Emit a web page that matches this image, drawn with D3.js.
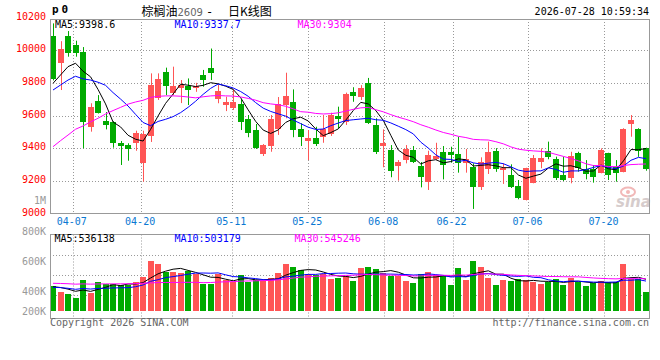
<!DOCTYPE html>
<html><head><meta charset="utf-8">
<script src="https://cdn.jsdelivr.net/npm/d3@7"></script>
<style>
body{margin:0;background:#fff}
svg{display:block}
text{font-family:"DejaVu Sans Mono",monospace;font-size:10px}
</style>
</head><body>
<svg id="c" width="660" height="360"></svg>
<script>
// ---------- data ----------
const dates = ["04-01","04-02","04-03","04-07","04-08","04-09","04-10","04-13","04-14","04-15","04-16","04-17","04-20","04-21","04-22","04-23","04-24","04-27","04-28","04-29","04-30",
"05-06","05-07","05-08","05-11","05-12","05-13","05-14","05-15","05-18","05-19","05-20","05-21","05-22","05-25","05-26","05-27","05-28","05-29",
"06-01","06-02","06-03","06-04","06-05","06-08","06-09","06-10","06-11","06-12","06-15","06-16","06-17","06-18","06-22","06-23","06-24","06-25","06-26","06-29","06-30",
"07-01","07-02","07-03","07-06","07-07","07-08","07-09","07-10","07-13","07-14","07-15","07-16","07-17","07-20","07-21","07-22","07-23","07-24","07-27","07-28"];

const open = [10087,9920,10087,10031,9991,9531,9691,9566,9558,9430,9419,9430,9307,9476,9705,9868,9740,9766,9781,9766,
9848,9893,9699,9664,9648,9670,9579,9511,9364,9413,9517,9664,9684,9517,9446,9464,9467,9485,9597,9562,
9746,9713,9797,9542,9415,9389,9293,9327,9389,9291,9195,9334,9378,9378,9364,9311,9283,9160,9271,9384,
9266,9236,9168,9083,9189,9317,9384,9332,9236,9219,9369,9271,9272,9250,9372,9283,9256,9548,9515,9399];
const high = [10164,10055,10117,10058,10019,9675,9725,9621,9565,9444,9430,9507,9507,9858,9858,9893,9899,9817,9827,9800,
9879,10010,9787,9715,9760,9699,9603,9548,9425,9603,9713,9862,9760,9552,9511,9531,9603,9617,9654,9740,
9773,9786,9830,9583,9515,9419,9327,9419,9413,9315,9384,9433,9413,9409,9470,9395,9307,9344,9440,9400,
9307,9301,9205,9280,9358,9399,9440,9348,9348,9378,9378,9327,9297,9399,9372,9327,9522,9603,9522,9403];
const low = [9815,9756,9960,9960,9399,9501,9612,9515,9403,9297,9323,9384,9195,9438,9695,9725,9725,9676,9664,9745,
9776,9817,9675,9627,9634,9511,9467,9395,9352,9378,9481,9583,9467,9413,9327,9413,9433,9475,9522,9542,
9684,9695,9548,9364,9283,9222,9201,9307,9309,9160,9144,9327,9209,9311,9250,9250,9028,9144,9242,9255,
9181,9156,9087,9080,9185,9277,9332,9205,9199,9185,9256,9209,9189,9246,9205,9195,9252,9470,9347,9262];
const close = [9822,10005,9984,9984,9562,9650,9617,9542,9430,9411,9395,9495,9487,9787,9822,9781,9781,9787,9756,9782,
9817,9862,9752,9684,9684,9562,9491,9399,9419,9579,9670,9721,9511,9467,9464,9425,9517,9603,9580,9732,
9719,9768,9556,9378,9430,9262,9317,9395,9317,9225,9358,9352,9297,9358,9307,9332,9160,9317,9378,9271,
9277,9160,9093,9277,9338,9338,9348,9219,9205,9352,9277,9242,9225,9389,9236,9246,9515,9572,9383,9272];
const volume = [470000,410000,390000,350000,530000,400000,510000,490000,490000,480000,480000,510000,560000,720000,690000,610000,610000,600000,620000,590000,
490000,490000,590000,530000,510000,580000,510000,530000,520000,550000,600000,690000,660000,630000,590000,580000,590000,540000,550000,570000,
520000,650000,660000,640000,600000,570000,570000,520000,500000,590000,610000,580000,580000,480000,650000,530000,720000,660000,550000,480000,
530000,520000,540000,530000,510000,490000,510000,540000,480000,550000,510000,470000,500000,520000,510000,510000,690000,537000,537000,410000];

// sessions before the visible window (estimated from where the MA lines start)
const priorCloses = [8900,8950,8920,8960,8910,8940,8760,8800,8820,8800,9100,9180,9260,9620,9700,9780,9850,9900,9935,9625,9700,9680,9750,9720,9725,9750,9729,9879,9805];
const priorVolumes = [460000,470000,480000,450000,470000,460000,470000,480000,460000,470000,460000,474000,590000,600000,580000,600000,590000,590000,600000,586000,440000,460000,450000,450000,455000,450000,470000,460000,465000];

const priceTicks = [10200,10000,9800,9600,9400,9200,9000];
const volumeTickLabels = ["800K","600K","400K","200K"];
const dateTicks = ["04-07","04-20","05-11","05-25","06-08","06-22","07-06","07-20"];
const maPeriods = [5,10,30];
const priceMaLabels = ["MA5:9398.6","MA10:9337.7","MA30:9304"];
const volumeMaLabels = ["MA5:536138","MA10:503179","MA30:545246"];

// ---------- layout ----------
const svg = d3.select("#c");
const L = 50, R = 650, PT = 19, PB = 213.5, VT = 234.5, VB = 318.5;
const UP = "#ff5555", DN = "#00aa00";
const maColors = ["#000000","#0000ff","#ff00ff"];
const crisp = v => Math.round(v) + 0.5;

const xC = d3.scaleLinear().domain([0, dates.length - 1]).range([53, 646]);
const xG = d3.scaleLinear().domain([0, dates.length - 1]).range([50, 650]);
const yP = d3.scaleLinear().domain([9000, 10200]).range([213.5, 17.5]);
const yV = d3.scaleLinear().domain([220000, 980000]).range([311, 235]);

function movingAvg(prior, vals, n) {
  const all = prior.concat(vals), off = prior.length;
  return vals.map((v, i) => d3.mean(all.slice(off + i - n + 1, off + i + 1)));
}

// watermark
const wm = svg.append("g");
wm.append("ellipse").attr("cx", 628).attr("cy", 192).attr("rx", 7).attr("ry", 4.5)
  .attr("fill", "none").attr("stroke", "#f2b8b8").attr("stroke-width", 2);
wm.append("circle").attr("cx", 628).attr("cy", 192).attr("r", 2).attr("fill", "#f2b8b8");
wm.append("text").attr("x", 616).attr("y", 207).text("sina")
  .style("font-family", "DejaVu Sans").style("font-size", "15px").style("font-style", "italic")
  .style("font-weight", "bold").attr("fill", "#d6cccc");

// grids
const grid = svg.append("g").attr("stroke", "#999").attr("stroke-dasharray", "1,2").attr("stroke-width", 1);
priceTicks.filter(v => v > 9000 && v < 10200).forEach(v => {
  grid.append("line").attr("x1", L).attr("x2", R).attr("y1", crisp(yP(v))).attr("y2", crisp(yP(v)));
});
dateTicks.forEach(d => {
  const x = crisp(xG(dates.indexOf(d)));
  grid.append("line").attr("x1", x).attr("x2", x).attr("y1", PT).attr("y2", PB);
  grid.append("line").attr("x1", x).attr("x2", x).attr("y1", VT).attr("y2", VB);
});
[1, 2, 3].forEach(k => {
  const y = crisp(VT + k * 20.2);
  grid.append("line").attr("x1", L).attr("x2", R).attr("y1", y).attr("y2", y);
});

// candles
const cg = svg.append("g");
dates.forEach((d, i) => {
  const col = close[i] >= open[i] ? UP : DN;
  const cx = Math.round(xC(i));
  cg.append("line").attr("x1", cx + 0.5).attr("x2", cx + 0.5)
    .attr("y1", yP(high[i])).attr("y2", yP(low[i])).attr("stroke", col).attr("stroke-width", 1);
  const top = yP(Math.max(open[i], close[i])), bot = yP(Math.min(open[i], close[i]));
  cg.append("rect").attr("x", cx - 3).attr("width", 6).attr("y", top)
    .attr("height", Math.max(1, bot - top)).attr("fill", col).attr("shape-rendering", "crispEdges");
});

// price MAs
maPeriods.forEach((n, k) => {
  const m = movingAvg(priorCloses, close, n);
  svg.append("path").datum(m).attr("fill", "none").attr("stroke", maColors[k]).attr("stroke-width", 1)
    .attr("d", d3.line().x((d, i) => xC(i)).y(d => yP(d)));
});

// volume bars
const vg = svg.append("g");
dates.forEach((d, i) => {
  const col = close[i] >= open[i] ? UP : DN;
  const cx = Math.round(xC(i));
  vg.append("rect").attr("x", cx - 3).attr("width", 6).attr("y", yV(volume[i]))
    .attr("height", yV.range()[0] - yV(volume[i])).attr("fill", col).attr("shape-rendering", "crispEdges");
});
maPeriods.forEach((n, k) => {
  const m = movingAvg(priorVolumes, volume, n);
  svg.append("path").datum(m).attr("fill", "none").attr("stroke", maColors[k]).attr("stroke-width", 1)
    .attr("d", d3.line().x((d, i) => xC(i)).y(d => yV(d)));
});

// borders
svg.append("rect").attr("x", L + 0.5).attr("y", PT + 0.5).attr("width", R - L - 1).attr("height", PB - PT - 0.5)
  .attr("fill", "none").attr("stroke", "#999");
svg.append("rect").attr("x", L + 0.5).attr("y", VT).attr("width", R - L - 1).attr("height", VB - VT)
  .attr("fill", "none").attr("stroke", "#999");

// y labels
priceTicks.forEach(v => {
  svg.append("text").attr("x", 46).attr("y", yP(v) + 2).attr("text-anchor", "end").attr("fill", "#ff0000").text(v);
});
svg.append("text").attr("x", 46).attr("y", 204).attr("text-anchor", "end").attr("fill", "#999").text("1M");
const volLabelOffsets = [0, 30, 60, 80];
volumeTickLabels.forEach((t, k) => {
  svg.append("text").attr("x", 46).attr("y", VT + volLabelOffsets[k]).attr("text-anchor", "end").attr("fill", "#999").text(t);
});

// x labels
dateTicks.forEach(d => {
  svg.append("text").attr("x", xG(dates.indexOf(d)) - 1).attr("y", 225).attr("text-anchor", "middle")
    .attr("fill", "#0a78d2").text(d);
});

// MA legends
const pmx = [55, 174.5, 297.5], vmx = [54.5, 174.5, 294.5];
priceMaLabels.forEach((t, k) => svg.append("text").attr("x", pmx[k]).attr("y", 27.5).attr("fill", maColors[k]).text(t));
volumeMaLabels.forEach((t, k) => svg.append("text").attr("x", vmx[k]).attr("y", 241.5).attr("fill", maColors[k]).text(t));

// header
svg.append("text").attr("x", 52).attr("y", 13).style("font-weight", "bold").style("font-size", "11px").text("p");
svg.append("text").attr("x", 61.5).attr("y", 13).style("font-weight", "bold").style("font-size", "11px").text("0");
const title = svg.append("text").attr("y", 16).style("font-family", '"Noto Sans CJK SC"').style("font-size", "12px").attr("fill", "#000");
title.append("tspan").attr("x", 141.5).text("棕榈油");
title.append("tspan").attr("x", 177.5).attr("fill", "#666").style("font-family", '"DejaVu Sans"').style("font-size", "10px").text("2609");
title.append("tspan").attr("x", 206).style("font-family", '"DejaVu Sans Mono"').text("-");
title.append("tspan").attr("x", 228).text("日K线图");
svg.append("text").attr("x", 649).attr("y", 15).attr("text-anchor", "end").attr("fill", "#000").text("2026-07-28 10:59:34");

// footer
svg.append("text").attr("x", 50).attr("y", 325.5).attr("fill", "#666").text("Copyright 2026 SINA.COM");
svg.append("text").attr("x", 649).attr("y", 325.5).attr("text-anchor", "end").attr("fill", "#666").text("http://finance.sina.com.cn");
</script>
</body></html>
